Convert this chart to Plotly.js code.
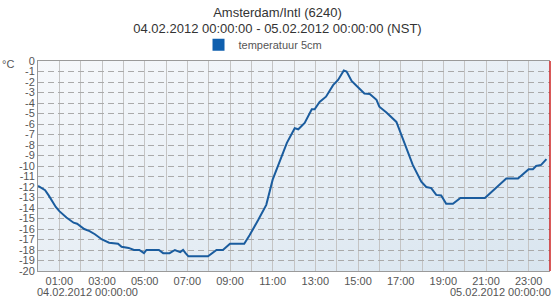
<!DOCTYPE html>
<html>
<head>
<meta charset="utf-8">
<script src="https://cdn.plot.ly/plotly-3.0.1.min.js"></script>
<style>html,body{margin:0;padding:0;background:#fff;}#chart{width:555px;height:300px;}</style>
</head>
<body>
<div id="chart"></div>
<script>
// Time of day (04.02.2012) and soil temperature at 5 cm (°C)
var times = ["00:00","00:20","00:30","00:50","01:00","01:20","01:40","01:50","02:10","02:25",
  "02:40","03:00","03:20","03:45","03:55","04:15","04:30","04:45","04:58","05:05",
  "05:40","05:52","06:10","06:25","06:40","06:48","06:55","07:03","07:58","08:22",
  "08:40","09:00","09:40","09:55","10:20","10:42","11:00","11:20","11:40","12:02",
  "12:12","12:30","12:50","12:58","13:12","13:30","13:50","14:04","14:20","14:28",
  "14:42","15:00","15:18","15:33","15:52","16:00","16:20","16:48","17:02","17:16",
  "17:34","17:58","18:12","18:26","18:40","18:54","19:08","19:27","19:48","20:57",
  "21:57","22:30","23:00","23:12","23:21","23:35","23:50"];
var temps = [-11.9,-12.3,-12.8,-13.9,-14.3,-14.9,-15.4,-15.5,-16.0,-16.2,
  -16.5,-17.0,-17.3,-17.4,-17.7,-17.8,-18.0,-18.0,-18.3,-18.0,
  -18.0,-18.3,-18.3,-18.0,-18.2,-18.0,-18.3,-18.6,-18.6,-18.0,
  -18.0,-17.4,-17.4,-16.6,-15.1,-13.7,-11.3,-9.5,-7.8,-6.4,
  -6.5,-5.9,-4.6,-4.6,-3.9,-3.4,-2.3,-1.8,-0.9,-1.0,
  -1.9,-2.5,-3.1,-3.15,-3.7,-4.35,-4.9,-5.8,-7.05,-8.3,
  -9.9,-11.5,-12.0,-12.1,-12.75,-12.8,-13.6,-13.6,-13.05,-13.05,
  -11.2,-11.2,-10.3,-10.3,-10.0,-9.9,-9.35];
var day = "2012-02-04";
var seriesName = "temperatuur 5cm";
var titleLines = ["Amsterdam/Intl (6240)", "04.02.2012 00:00:00 - 05.02.2012 00:00:00 (NST)"];
var startLabel = "04.02.2012 00:00:00";
var endLabel = "05.02.2012 00:00:00";
var yTickVals = [0,-1,-2,-3,-4,-5,-6,-7,-8,-9,-10,-11,-12,-13,-14,-15,-16,-17,-18,-19,-20];
var yTickText = ["0","-1","-2","-3","-4","-5","-6","-7","-8","-9","-10","-11","-12","-13","-14","-15","-16","-17","-18","-19","-20"];
var unitLabel = "°C";

var xs = times.map(function(t){ return day + " " + t; });
var lineColor = "#1a5c9e";

var bgSvg = '<svg xmlns="http://www.w3.org/2000/svg" width="512" height="210" preserveAspectRatio="none">' +
  '<defs><linearGradient id="g" x1="0" y1="0" x2="1" y2="1">' +
  '<stop offset="0" stop-color="#f6f8fb"/><stop offset="1" stop-color="#d9e5ef"/></linearGradient></defs>' +
  '<rect width="512" height="210" fill="url(#g)"/></svg>';
var bgUri = "data:image/svg+xml;charset=utf-8," + encodeURIComponent(bgSvg);

var traces = [
  {x: xs, y: temps, type: "scatter", mode: "lines", name: seriesName, showlegend: false,
   line: {color: lineColor, width: 2}, hoverinfo: "x+y"},
  {x: [null], y: [null], type: "bar", name: seriesName, showlegend: true,
   marker: {color: "#0f5fae"}}
];

var layout = {
  width: 555, height: 300,
  margin: {l: 38, r: 5, t: 61, b: 29, pad: 0},
  paper_bgcolor: "#ffffff",
  plot_bgcolor: "rgba(0,0,0,0)",
  font: {family: "Liberation Sans, Arial, sans-serif", size: 11, color: "#555555"},
  title: {text: titleLines.join("<br>"), font: {size: 13, color: "#333333"},
          x: 0.5, xanchor: "center", y: 0.945, yanchor: "top", yref: "container"},
  showlegend: true,
  legend: {orientation: "h", x: 0.3135, xanchor: "left", y: 1.077, yanchor: "middle",
           font: {size: 11, color: "#555555"}, bgcolor: "rgba(0,0,0,0)", itemwidth: 30},
  xaxis: {
    type: "date", range: [day + " 00:00", "2012-02-05 00:00"],
    tick0: day + " 01:00", dtick: 7200000, tickformat: "%H:%M",
    ticks: "", showgrid: true, gridcolor: "#c4c4c4", gridwidth: 1,
    minor: {dtick: 3600000, tick0: day + " 00:00", showgrid: true, gridcolor: "#c4c4c4", gridwidth: 1},
    showline: true, linecolor: "#9a9a9a", linewidth: 1, mirror: true,
    zeroline: false, tickfont: {size: 11, color: "#555555"}, fixedrange: true
  },
  yaxis: {
    range: [-20, 0], tickmode: "array", tickvals: yTickVals, ticktext: yTickText,
    ticks: "", showgrid: true, gridcolor: "#aaaaaa", gridwidth: 1, griddash: "6px,4px",
    showline: true, linecolor: "#9a9a9a", linewidth: 1, zeroline: false,
    tickfont: {size: 11, color: "#555555"}, fixedrange: true
  },
  images: [{source: bgUri, xref: "paper", yref: "paper", x: 0, y: 1, sizex: 1, sizey: 1,
            xanchor: "left", yanchor: "top", sizing: "stretch", layer: "below"}],
  shapes: [{type: "line", xref: "paper", yref: "paper", x0: 1, x1: 1, y0: 0, y1: 1,
            line: {color: "#cc2222", width: 1.5}}],
  annotations: [
    {text: unitLabel, xref: "paper", yref: "paper", x: -0.043, y: 0.985, xanchor: "right", yanchor: "middle",
     showarrow: false, font: {size: 11, color: "#555555"}},
    {text: startLabel, xref: "paper", yref: "paper", x: -0.006, y: -0.102, xanchor: "left", yanchor: "middle",
     showarrow: false, font: {size: 11, color: "#555555"}},
    {text: endLabel, xref: "paper", yref: "paper", x: 1.006, y: -0.102, xanchor: "right", yanchor: "middle",
     showarrow: false, font: {size: 11, color: "#555555"}}
  ]
};

Plotly.newPlot("chart", traces, layout, {displayModeBar: false, staticPlot: true});
</script>
</body>
</html>
